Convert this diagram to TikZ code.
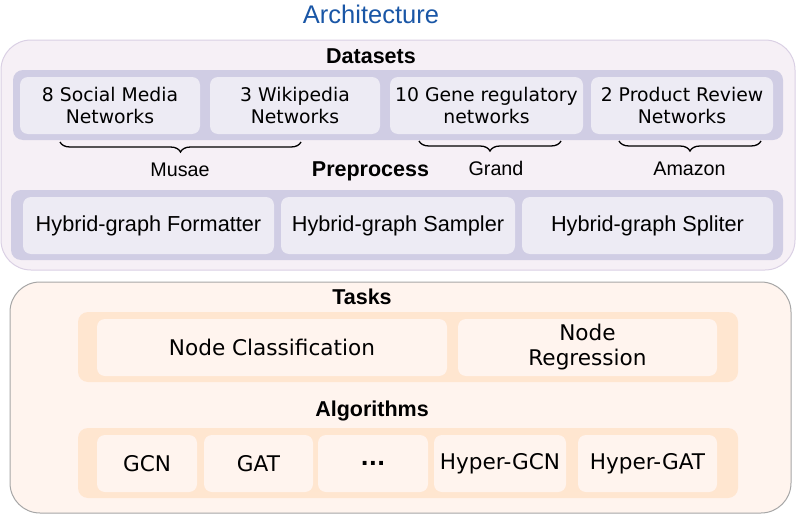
\documentclass[tikz,border=0pt]{standalone}
\usepackage{fontspec}
\setmainfont{Liberation Sans}
\newfontfamily\vfont{DejaVu Sans}
\usetikzlibrary{decorations.pathreplacing}
\definecolor{archblue}{RGB}{25,86,166}
\definecolor{upfill}{RGB}{246,240,246}
\definecolor{upline}{RGB}{218,208,228}
\definecolor{upband}{RGB}{208,205,228}
\definecolor{upin}{RGB}{237,235,244}
\definecolor{lofill}{RGB}{255,244,238}
\definecolor{loline}{RGB}{166,166,166}
\definecolor{loband}{RGB}{255,230,208}
\definecolor{loin}{RGB}{255,244,238}

\begin{document}
\begin{tikzpicture}[x=1pt, y=-1pt,
  box/.style={rounded corners=8pt, inner sep=0pt, align=center},
  dbox/.style={box, fill=upin, minimum height=57pt, font=\vfont\fontsize{18.8}{22}\selectfont},
  pbox/.style={box, fill=upin, minimum height=57pt, font=\fontsize{21.7}{25}\selectfont},
  tbox/.style={box, fill=loin, minimum height=57pt, font=\vfont\fontsize{21.6}{25}\selectfont},
  head/.style={anchor=base, font=\bfseries\fontsize{21.5}{25}\selectfont},
  lbl/.style={anchor=base, font=\fontsize{19.7}{23}\selectfont},
  brace/.style={decorate, decoration={brace, mirror, amplitude=10pt}, line width=1.3pt}]
\useasboundingbox (0,0) rectangle (796,514);

\node[anchor=base, text=archblue, font=\fontsize{25.5}{30}\selectfont] (title) at (371,23.5) {Architecture};

\draw[upline, fill=upfill, line width=1pt, rounded corners=30pt] (1,40) rectangle (795,270);
\node[head] (datasets) at (371,63.3) {Datasets};
\fill[upband, rounded corners=10pt] (13,70) rectangle (783,140);
\node[dbox, minimum width=180pt] (social) at (110,105.5) {8 Social Media\\Networks};
\node[dbox, minimum width=170pt] (wiki) at (295,105.5) {3 Wikipedia\\Networks};
\node[dbox, minimum width=193pt] (gene) at (486.5,105.5) {10 Gene regulatory\\networks};
\node[dbox, minimum width=182pt] (review) at (682,105.5) {2 Product Review\\Networks};

\draw[brace] (60,142) -- (301,142);
\draw[brace] (419,141) -- (561,141);
\draw[brace] (619,141) -- (761,141);
\node[lbl] (musae) at (180,176.7) {Musae};
\node[lbl] (grand) at (496,175) {Grand};
\node[lbl] (amazon) at (689.5,175) {Amazon};

\node[head] (preprocess) at (370.5,176.7) {Preprocess};
\fill[upband, rounded corners=10pt] (11,190) rectangle (783,260);
\node[pbox, minimum width=251pt] (formatter) at (148.5,225.5) {Hybrid-graph Formatter};
\node[pbox, minimum width=234pt] (sampler) at (398,225.5) {Hybrid-graph Sampler};
\node[pbox, minimum width=251pt] (spliter) at (647.5,225.5) {Hybrid-graph Spliter};

\draw[loline, fill=lofill, line width=1pt, rounded corners=30pt] (10,282) rectangle (791,513);
\node[head] (tasks) at (362,304.3) {Tasks};
\fill[loband, rounded corners=10pt] (78,312) rectangle (738,382);
\node[tbox, minimum width=350pt] (classif) at (272,347.5) {Node Classification};
\node[tbox, minimum width=259pt] (regress) at (587.5,347.5) {Node\\Regression};

\node[head] (algos) at (372,416.7) {Algorithms};
\fill[loband, rounded corners=10pt] (78,428) rectangle (738,498);
\foreach \nm/\cx/\w/\txt in {gcn/147/100/GCN, gat/258.5/109/GAT, dots/373/110/\textbf{...}, hgcn/500/132/Hyper-GCN, hgat/647.5/139/Hyper-GAT}
{
    \node[tbox, minimum width=\w pt] (\nm) at (\cx,463.5) {\txt};
}
\end{tikzpicture}
\end{document}
